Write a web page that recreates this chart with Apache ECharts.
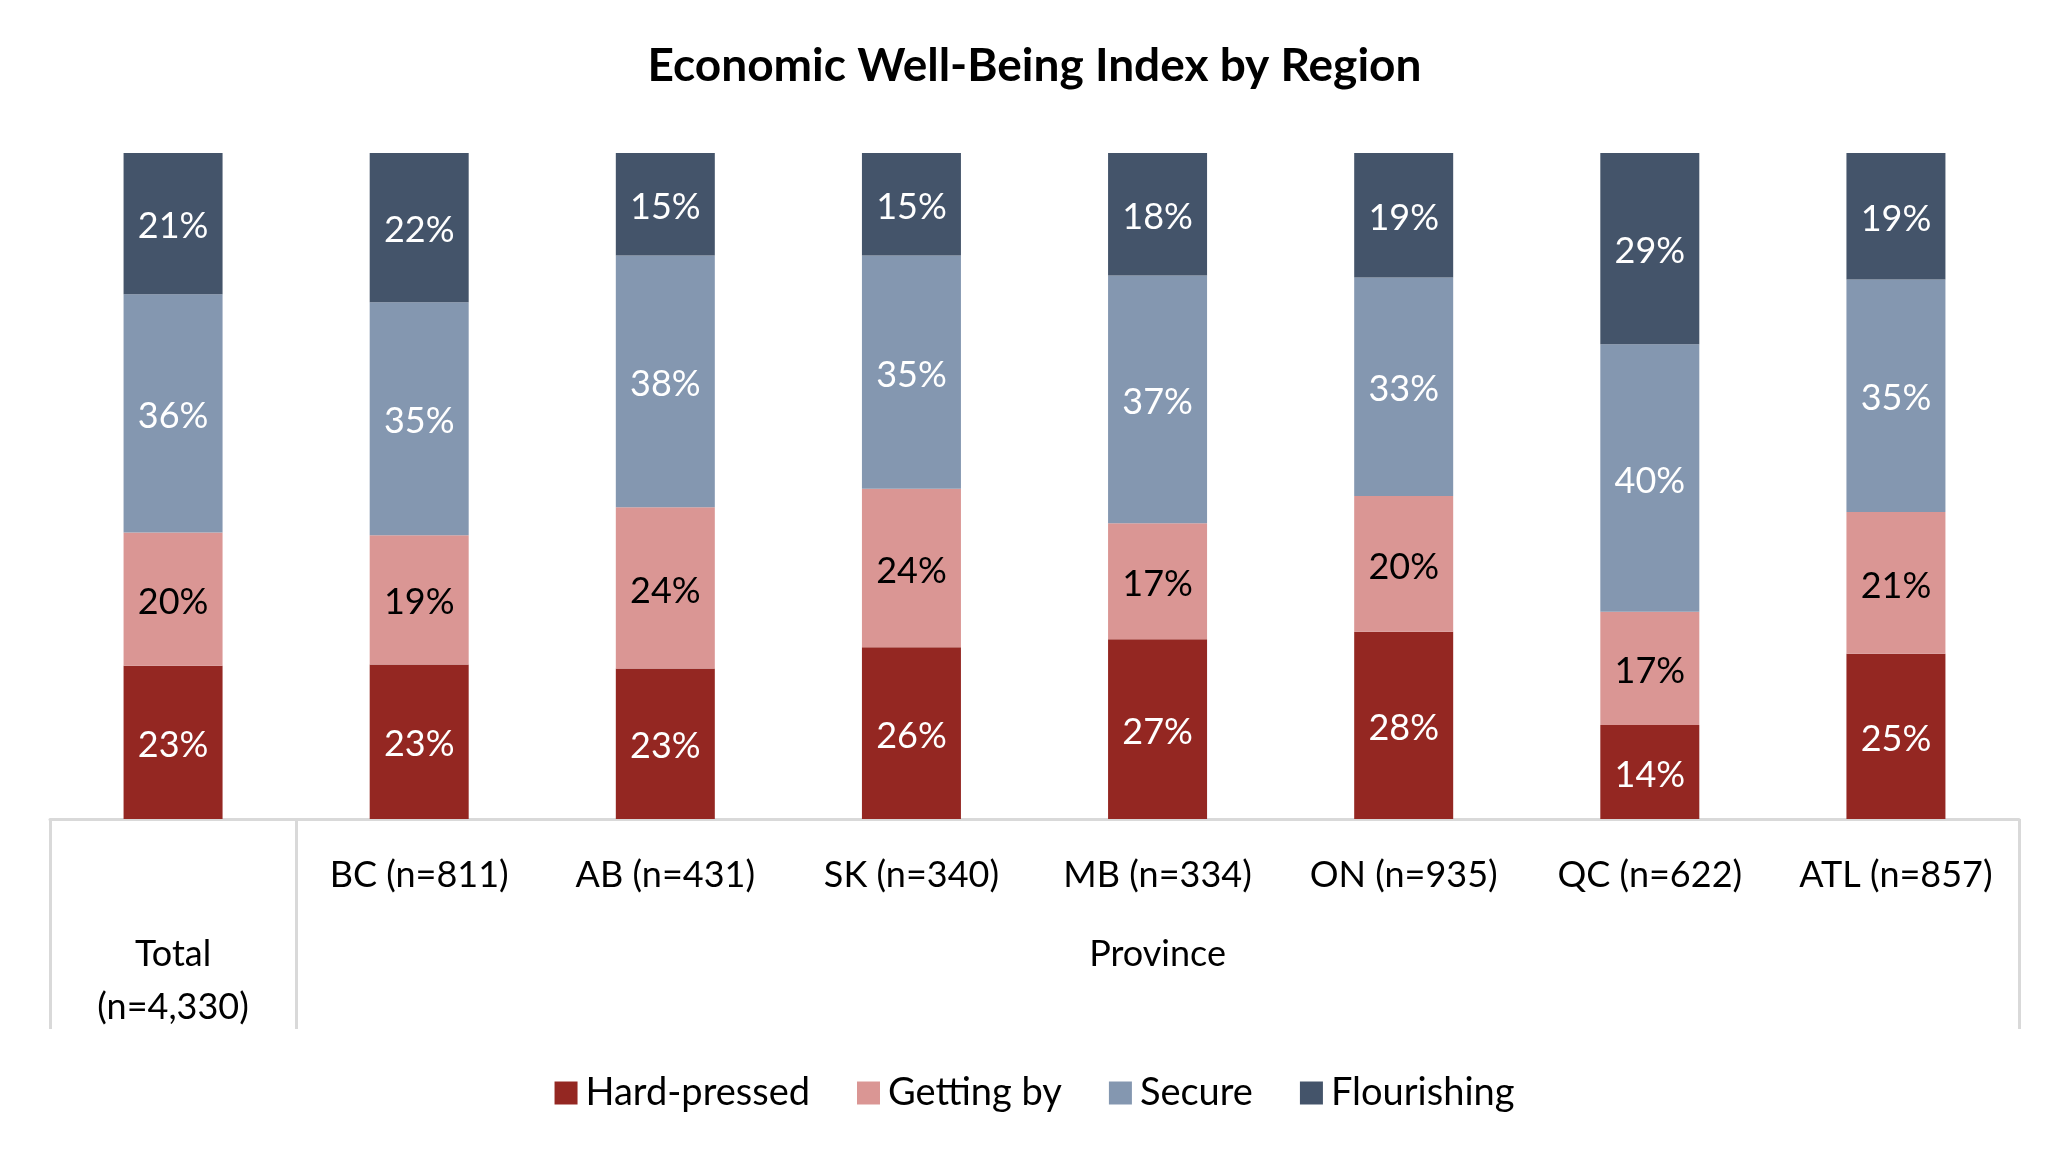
<!DOCTYPE html>
<html>
<head>
<meta charset="utf-8">
<script src="https://cdn.jsdelivr.net/npm/echarts@6/dist/echarts.min.js"></script>
<style>
html, body { margin: 0; padding: 0; background: #ffffff; }
#chart { width: 2069px; height: 1158px; }
</style>
</head>
<body>
<div id="chart"></div>
<script>
// Level-1 category labels (Total has none on this level)
const provinceLabels = ['', 'BC (n=811)', 'AB (n=431)', 'SK (n=340)', 'MB (n=334)', 'ON (n=935)', 'QC (n=622)', 'ATL (n=857)'];
// Level-2 group labels
const groupLabels = ['Total\n(n=4,330)', '', '', '', 'Province', '', '', ''];

const seriesNames = ['Hard-pressed', 'Getting by', 'Secure', 'Flourishing'];
const hardPressed = [23.0, 23.2, 22.6, 25.8, 27.0, 28.1, 14.1, 24.8];
const gettingBy   = [20.0, 19.4, 24.2, 23.8, 17.4, 20.4, 17.0, 21.3];
const secure      = [35.8, 35.0, 37.8, 35.0, 37.2, 32.8, 40.2, 34.9];
const flourishing = [21.2, 22.4, 15.4, 15.4, 18.4, 18.7, 28.7, 19.0];

const colors = ['#942722', '#DA9694', '#8497B0', '#44546A'];
const labelColors = ['#ffffff', '#000000', '#ffffff', '#ffffff'];
const FONT = 'Lato, Carlito, "Open Sans", sans-serif';

const chart = echarts.init(document.getElementById('chart'));
const values = [hardPressed, gettingBy, secure, flourishing];

chart.setOption({
  animation: false,
  backgroundColor: '#ffffff',
  title: {
    text: 'Economic Well-Being Index by Region',
    left: 'center',
    top: 38,
    textStyle: { fontFamily: FONT, fontSize: 46, fontWeight: 'bold', color: '#000000' }
  },
  legend: {
    data: seriesNames,
    left: 'center',
    top: 1069,
    itemWidth: 23,
    itemHeight: 23,
    itemGap: 47,
    icon: 'rect',
    textStyle: { fontFamily: FONT, fontSize: 38, color: '#000000', padding: [0, 0, 0, 3] }
  },
  grid: { left: 50, right: 50, top: 153, bottom: 339, containLabel: false },
  xAxis: [
    {
      type: 'category',
      data: provinceLabels,
      position: 'bottom',
      axisLine: { show: true, lineStyle: { color: '#D9D9D9', width: 3 } },
      axisTick: { show: false },
      axisLabel: { interval: 0, margin: 38, fontFamily: FONT, fontSize: 36, color: '#000000' }
    },
    {
      type: 'category',
      data: groupLabels,
      position: 'bottom',
      axisLine: { show: false },
      axisTick: {
        show: true,
        interval: function (idx) { return idx <= 1; },
        length: 210,
        inside: false,
        lineStyle: { color: '#D9D9D9', width: 3 }
      },
      axisLabel: { interval: 0, margin: 109, fontFamily: FONT, fontSize: 36, lineHeight: 53, color: '#000000' }
    }
  ],
  yAxis: {
    type: 'value',
    min: 0,
    max: 100,
    show: false,
    splitLine: { show: false }
  },
  series: seriesNames.map(function (name, i) {
    return {
      name: name,
      type: 'bar',
      stack: 'total',
      xAxisIndex: 0,
      barWidth: 99,
      data: values[i],
      itemStyle: { color: colors[i] },
      label: {
        show: true,
        position: 'inside',
        offset: [0, 3],
        formatter: function (p) { return Math.round(p.value) + '%'; },
        fontFamily: FONT,
        fontSize: 36,
        color: labelColors[i]
      }
    };
  })
});
</script>
</body>
</html>
